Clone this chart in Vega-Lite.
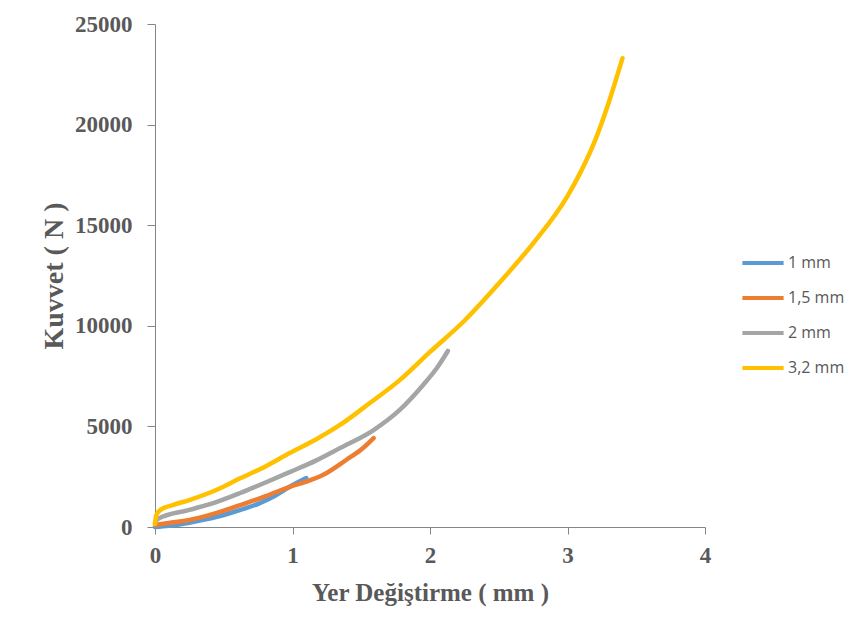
{
  "$schema": "https://vega.github.io/schema/vega-lite/v6.json",
  "autosize": "none",
  "width": 550,
  "height": 503,
  "padding": {"left": 155, "top": 24, "right": 152, "bottom": 108},
  "background": "white",
  "config": {"view": {"stroke": null}},
  "data": {
    "values": [
      {"s": "1 mm", "x": 0, "y": 0},
      {"s": "1 mm", "x": 0.1, "y": 60},
      {"s": "1 mm", "x": 0.25, "y": 215},
      {"s": "1 mm", "x": 0.45, "y": 500},
      {"s": "1 mm", "x": 0.62, "y": 850},
      {"s": "1 mm", "x": 0.75, "y": 1150},
      {"s": "1 mm", "x": 0.86, "y": 1500},
      {"s": "1 mm", "x": 0.98, "y": 2000},
      {"s": "1 mm", "x": 1.1, "y": 2430},
      {"s": "1,5 mm", "x": 0, "y": 100},
      {"s": "1,5 mm", "x": 0.1, "y": 200},
      {"s": "1,5 mm", "x": 0.25, "y": 350},
      {"s": "1,5 mm", "x": 0.45, "y": 700},
      {"s": "1,5 mm", "x": 0.62, "y": 1090},
      {"s": "1,5 mm", "x": 0.8, "y": 1520},
      {"s": "1,5 mm", "x": 0.98, "y": 2000},
      {"s": "1,5 mm", "x": 1.1, "y": 2250},
      {"s": "1,5 mm", "x": 1.22, "y": 2580},
      {"s": "1,5 mm", "x": 1.39, "y": 3330},
      {"s": "1,5 mm", "x": 1.5, "y": 3850},
      {"s": "1,5 mm", "x": 1.59, "y": 4420},
      {"s": "2 mm", "x": 0, "y": 200},
      {"s": "2 mm", "x": 0.02, "y": 400},
      {"s": "2 mm", "x": 0.25, "y": 850},
      {"s": "2 mm", "x": 0.45, "y": 1250},
      {"s": "2 mm", "x": 0.62, "y": 1690},
      {"s": "2 mm", "x": 0.8, "y": 2200},
      {"s": "2 mm", "x": 0.98, "y": 2730},
      {"s": "2 mm", "x": 1.17, "y": 3300},
      {"s": "2 mm", "x": 1.345, "y": 3920},
      {"s": "2 mm", "x": 1.59, "y": 4820},
      {"s": "2 mm", "x": 1.78, "y": 5820},
      {"s": "2 mm", "x": 1.95, "y": 7060},
      {"s": "2 mm", "x": 2.05, "y": 7900},
      {"s": "2 mm", "x": 2.13, "y": 8750},
      {"s": "3,2 mm", "x": 0, "y": 150},
      {"s": "3,2 mm", "x": 0.01, "y": 600},
      {"s": "3,2 mm", "x": 0.04, "y": 850},
      {"s": "3,2 mm", "x": 0.13, "y": 1090},
      {"s": "3,2 mm", "x": 0.25, "y": 1340},
      {"s": "3,2 mm", "x": 0.45, "y": 1850},
      {"s": "3,2 mm", "x": 0.62, "y": 2420},
      {"s": "3,2 mm", "x": 0.8, "y": 3000},
      {"s": "3,2 mm", "x": 0.98, "y": 3680},
      {"s": "3,2 mm", "x": 1.17, "y": 4350},
      {"s": "3,2 mm", "x": 1.345, "y": 5070},
      {"s": "3,2 mm", "x": 1.56, "y": 6150},
      {"s": "3,2 mm", "x": 1.78, "y": 7300},
      {"s": "3,2 mm", "x": 2.0, "y": 8700},
      {"s": "3,2 mm", "x": 2.25, "y": 10250},
      {"s": "3,2 mm", "x": 2.5, "y": 12100},
      {"s": "3,2 mm", "x": 2.75, "y": 14100},
      {"s": "3,2 mm", "x": 3.0, "y": 16450},
      {"s": "3,2 mm", "x": 3.1, "y": 17700},
      {"s": "3,2 mm", "x": 3.2, "y": 19200},
      {"s": "3,2 mm", "x": 3.3, "y": 21100},
      {"s": "3,2 mm", "x": 3.4, "y": 23300}
    ]
  },
  "mark": {"type": "line", "strokeWidth": 4.5, "strokeCap": "round", "interpolate": "monotone"},
  "encoding": {
    "x": {
      "field": "x", "type": "quantitative",
      "scale": {"domain": [0, 4], "nice": false},
      "axis": {
        "title": "Yer Değiştirme ( mm )", "values": [0, 1, 2, 3, 4], "grid": false, "labelFlush": false,
        "labelFont": "Liberation Serif", "labelFontSize": 23, "labelFontWeight": "bold", "labelColor": "#595959",
        "titleFont": "Liberation Serif", "titleFontSize": 25, "titleFontWeight": "bold", "titleColor": "#595959",
        "domainColor": "#868686", "tickColor": "#868686", "tickSize": 7, "labelPadding": 10, "titlePadding": 13
      }
    },
    "y": {
      "field": "y", "type": "quantitative",
      "scale": {"domain": [0, 25000], "nice": false},
      "axis": {
        "title": "Kuvvet ( N )", "values": [0, 5000, 10000, 15000, 20000, 25000], "grid": false, "format": "d", "labelFlush": false,
        "labelFont": "Liberation Serif", "labelFontSize": 23, "labelFontWeight": "bold", "labelColor": "#595959",
        "titleFont": "Liberation Serif", "titleFontSize": 28, "titleFontWeight": "bold", "titleColor": "#595959",
        "domainColor": "#868686", "tickColor": "#868686", "tickSize": 8, "labelPadding": 15, "titlePadding": 6
      }
    },
    "color": {
      "field": "s", "type": "nominal",
      "scale": {"domain": ["1 mm", "1,5 mm", "2 mm", "3,2 mm"], "range": ["#5B9BD5", "#ED7D31", "#A5A5A5", "#FFC000"]},
      "legend": {
        "title": null, "orient": "none", "legendX": 585, "legendY": 216,
        "symbolType": "stroke", "symbolSize": 1700, "symbolStrokeWidth": 4,
        "labelFont": "Open Sans", "labelFontSize": 16, "labelColor": "#595959",
        "rowPadding": 4, "labelOffset": 2
      }
    }
  }
}
